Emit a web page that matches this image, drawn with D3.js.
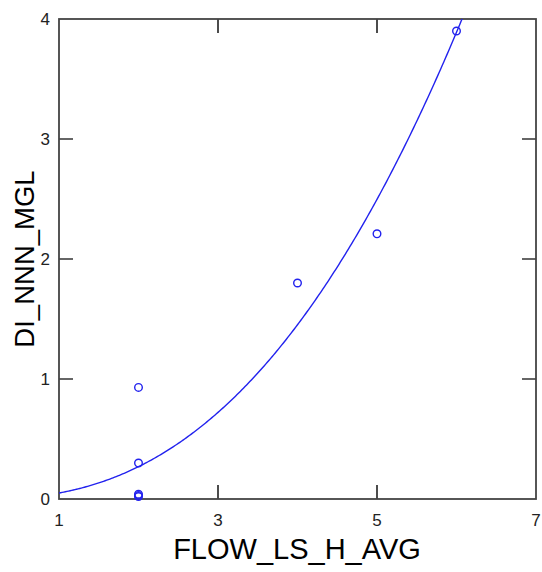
<!DOCTYPE html>
<html>
<head>
<meta charset="utf-8">
<script src="https://cdn.jsdelivr.net/npm/d3@7"></script>
<style>
  html, body { margin: 0; padding: 0; background: #fff; }
  svg { display: block; }
  .tick-label { font-family: "Liberation Sans", Arial, sans-serif; font-size: 17px; fill: #222; }
  .axis-title { font-family: "Liberation Sans", Arial, sans-serif; fill: #000; }
</style>
</head>
<body>
<svg id="chart" width="542" height="572"></svg>
<script>
// Observations: flow vs. DI NNN concentration
const flowValues = [2, 2, 2, 2, 2, 4, 5, 6];
const nnnValues  = [0.93, 0.30, 0.04, 0.03, 0.02, 1.80, 2.21, 3.90];

// Axis ticks
const xTicks = [1, 3, 5, 7];
const yTicks = [0, 1, 2, 3, 4];

// Power-law fit: y = a * x^b
const fitA = 0.05;
const fitB = 2.43;

(function () {
  const svg = d3.select("#chart");
  const pLeft = 59, pRight = 536, pTop = 19, pBottom = 499;

  const x = d3.scaleLinear().domain([1, 7]).range([pLeft, pRight]);
  const y = d3.scaleLinear().domain([0, 4]).range([pBottom, pTop]);

  // Clip so the fitted curve stays inside the frame
  svg.append("defs").append("clipPath").attr("id", "plotClip")
    .append("rect").attr("x", pLeft).attr("y", pTop)
    .attr("width", pRight - pLeft).attr("height", pBottom - pTop);

  const plot = svg.append("g");

  // Inward ticks on all four sides (interior values only)
  const tickLen = 14;
  const innerX = xTicks.filter(v => v !== x.domain()[0] && v !== x.domain()[1]);
  const innerY = yTicks.filter(v => v !== y.domain()[0] && v !== y.domain()[1]);

  innerX.forEach(v => {
    plot.append("line").attr("x1", x(v)).attr("x2", x(v))
      .attr("y1", pBottom).attr("y2", pBottom - tickLen)
      .attr("stroke", "#111").attr("stroke-width", 1.5);
    plot.append("line").attr("x1", x(v)).attr("x2", x(v))
      .attr("y1", pTop).attr("y2", pTop + tickLen)
      .attr("stroke", "#111").attr("stroke-width", 1.5);
  });
  innerY.forEach(v => {
    plot.append("line").attr("x1", pLeft).attr("x2", pLeft + tickLen)
      .attr("y1", y(v)).attr("y2", y(v))
      .attr("stroke", "#333").attr("stroke-width", 1.5);
    plot.append("line").attr("x1", pRight).attr("x2", pRight - tickLen)
      .attr("y1", y(v)).attr("y2", y(v))
      .attr("stroke", "#333").attr("stroke-width", 1.5);
  });

  // Frame
  plot.append("rect").attr("x", pLeft).attr("y", pTop)
    .attr("width", pRight - pLeft).attr("height", pBottom - pTop)
    .attr("fill", "none").attr("stroke", "#444").attr("stroke-width", 1.8);

  // Tick labels
  svg.selectAll(".xl").data(xTicks).enter().append("text")
    .attr("class", "tick-label")
    .attr("x", d => x(d)).attr("y", pBottom + 27)
    .attr("text-anchor", "middle").text(d => d);

  svg.selectAll(".yl").data(yTicks).enter().append("text")
    .attr("class", "tick-label")
    .attr("x", pLeft - 9).attr("y", d => y(d) + 6)
    .attr("text-anchor", "end").text(d => d);

  // Axis titles
  svg.append("text").attr("class", "axis-title")
    .attr("font-size", 29)
    .attr("x", 297).attr("y", 559)
    .attr("text-anchor", "middle").text("FLOW_LS_H_AVG");

  svg.append("text").attr("class", "axis-title")
    .attr("font-size", 27.5)
    .attr("transform", `translate(34, ${(pTop + pBottom) / 2}) rotate(-90)`)
    .attr("text-anchor", "middle").text("DI_NNN_MGL");

  // Fitted curve
  const curveX = d3.range(1, 7.0001, 0.02);
  const line = d3.line().x(d => x(d)).y(d => y(fitA * Math.pow(d, fitB)));
  svg.append("path").datum(curveX)
    .attr("clip-path", "url(#plotClip)")
    .attr("d", line)
    .attr("fill", "none").attr("stroke", "#2222ee").attr("stroke-width", 1.4);

  // Points
  svg.selectAll(".pt").data(flowValues.map((f, i) => [f, nnnValues[i]]))
    .enter().append("circle")
    .attr("cx", d => x(d[0])).attr("cy", d => y(d[1]))
    .attr("r", 3.8)
    .attr("fill", "none").attr("stroke", "#2222ee").attr("stroke-width", 1.4);
})();
</script>
</body>
</html>
